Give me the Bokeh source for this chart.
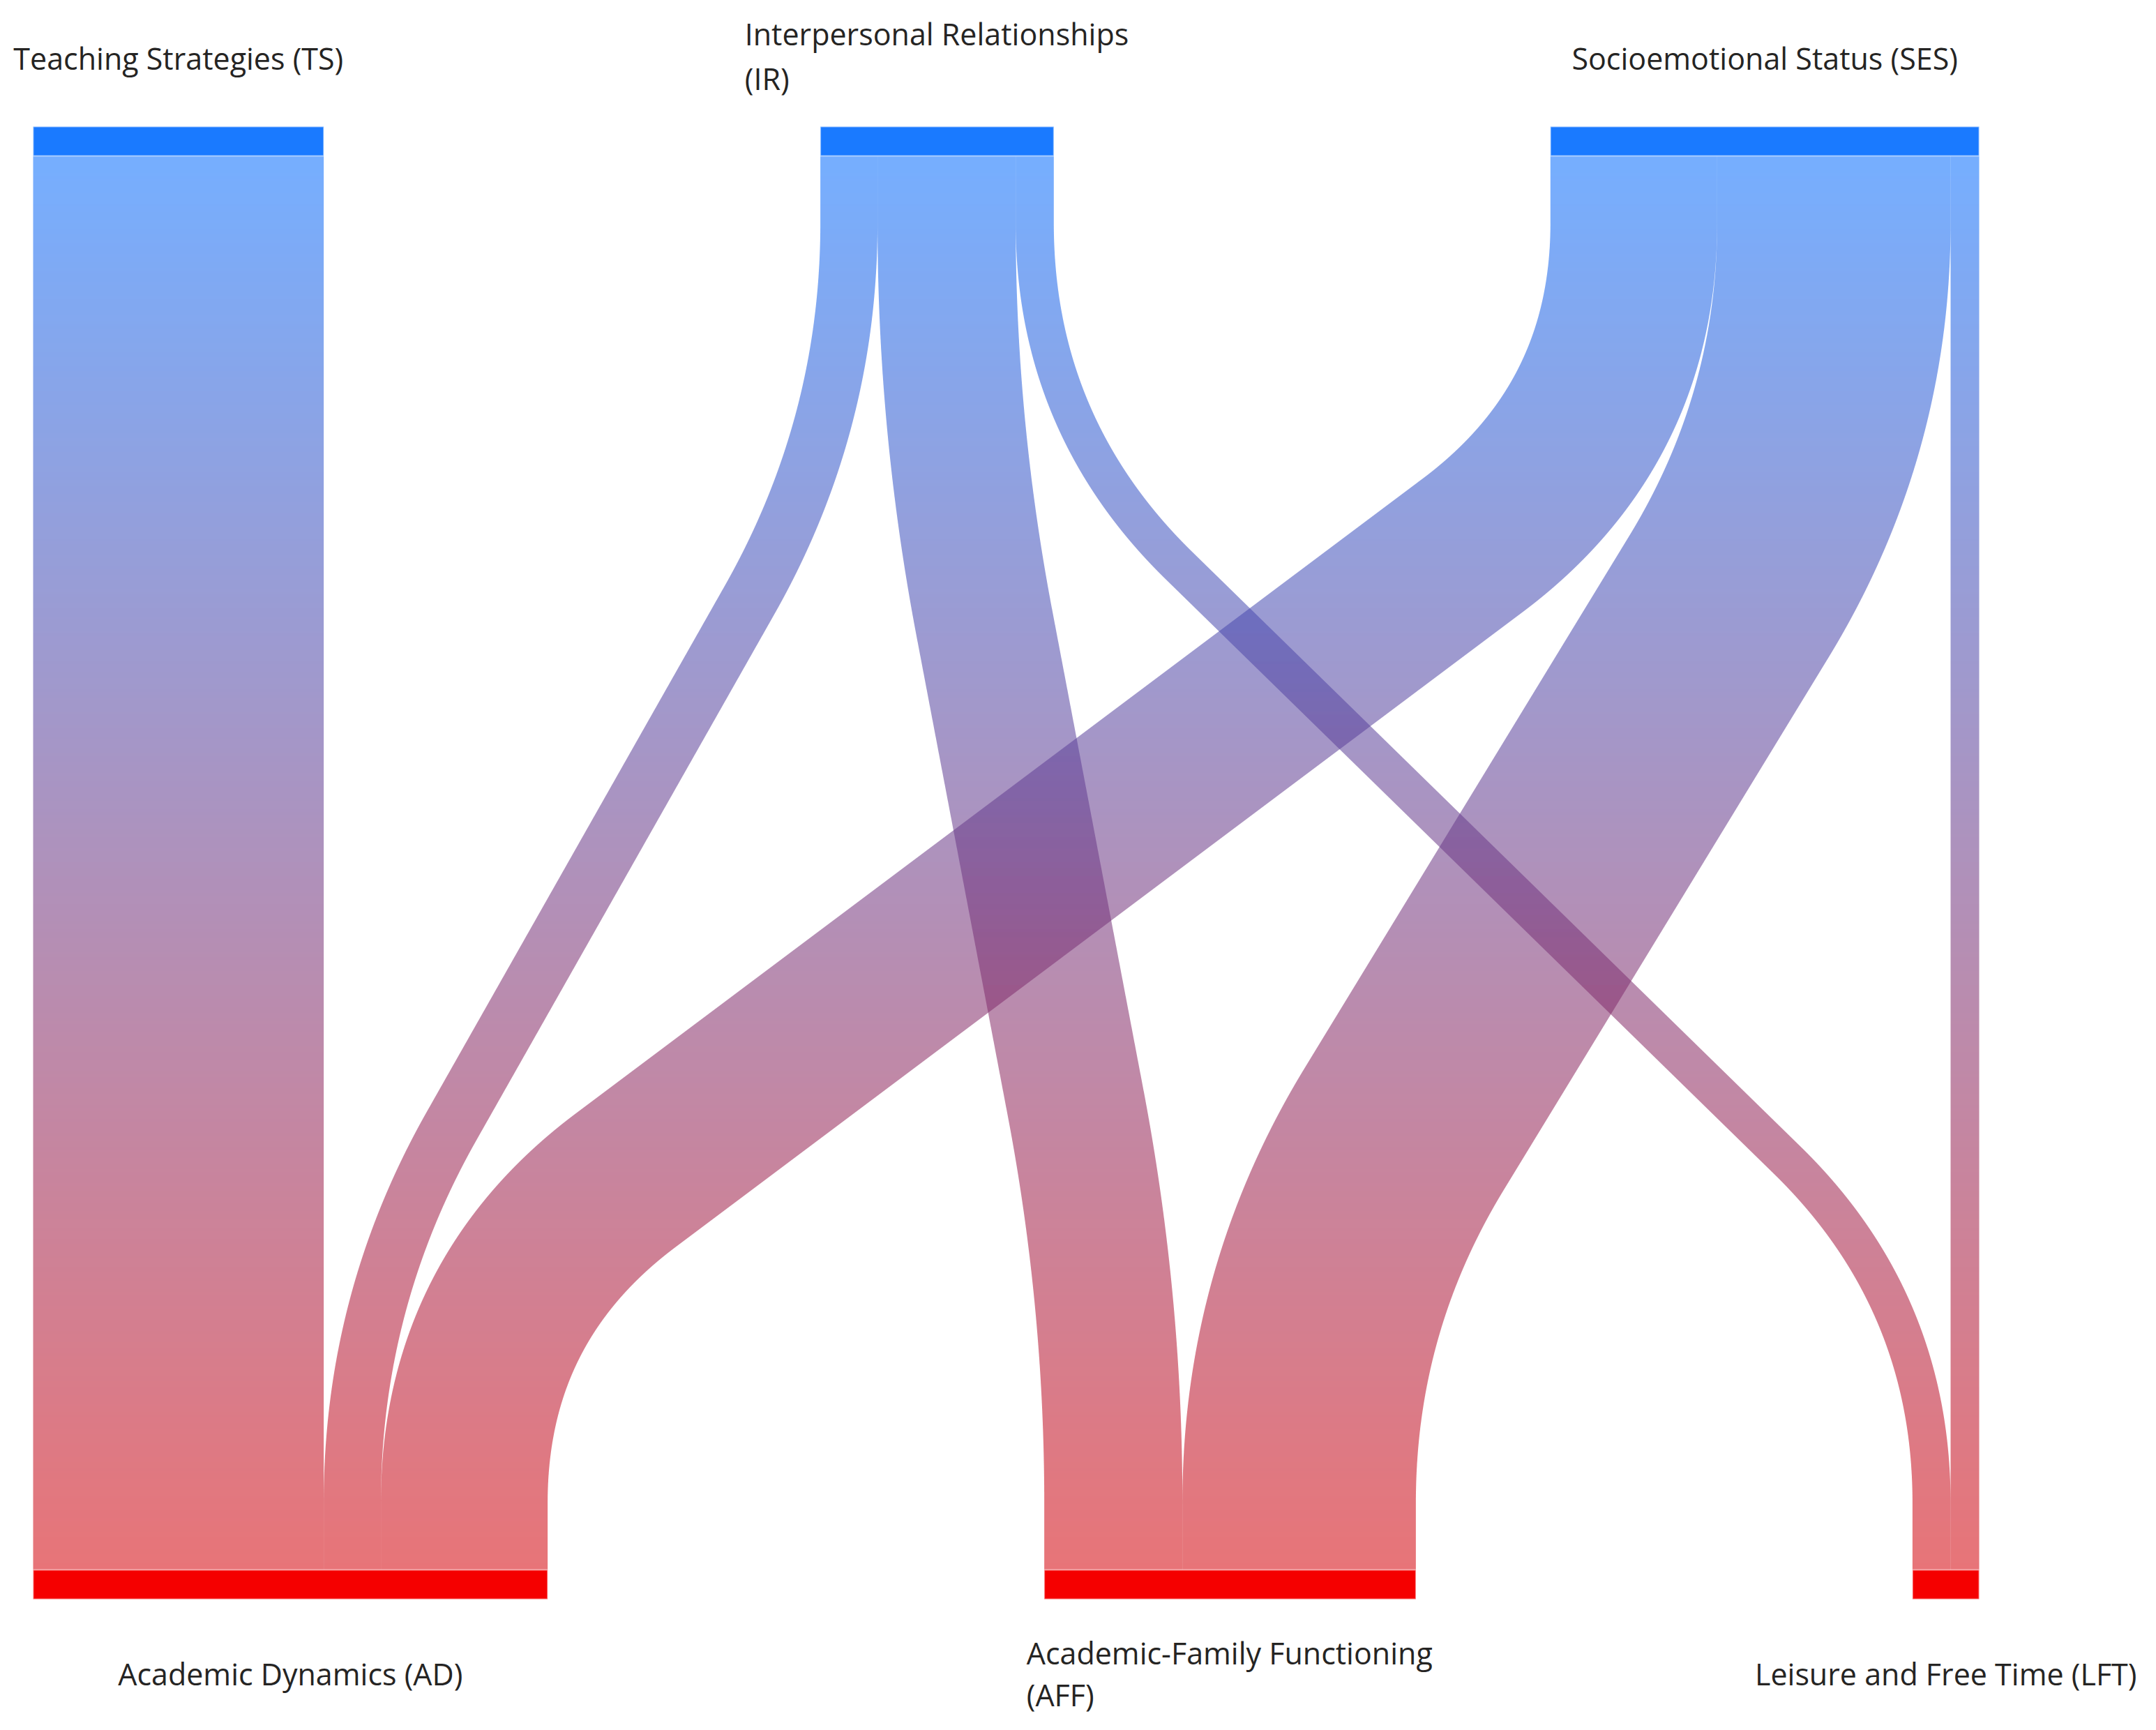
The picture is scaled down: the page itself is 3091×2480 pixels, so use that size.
import numpy as np
from bokeh.plotting import figure
from bokeh.models import Range1d, ColumnDataSource
from bokeh.embed import file_html
from bokeh.resources import INLINE
from bokeh.core.properties import value

# ---------------- data ----------------
source_names = ["Teaching Strategies (TS)",
                "Interpersonal Relationships\n(IR)",
                "Socioemotional Status (SES)"]
target_names = ["Academic Dynamics (AD)",
                "Academic-Family Functioning\n(AFF)",
                "Leisure and Free Time (LFT)"]
link_source = [0, 1, 1, 1, 2, 2, 2]
link_target = [0, 0, 1, 2, 0, 1, 2]
link_value = [61, 12, 29, 8, 35, 49, 6]

# ---------------- layout / style ----------------
W, H = 3075, 2472
X_LEFT, X_RIGHT = 47, 2837
NODE_GAP = 712
TOP_Y0, TOP_Y1 = 181, 223        # top node band (screen y, downwards)
BOT_Y0, BOT_Y1 = 2250, 2292      # bottom node band
CORNER = 0.19                    # where the diagonal meets the vertical (fraction of height)
FILLET = 0.75                    # fillet tangent length (fraction of corner distance)
STEP = 4                         # gradient strip height (px)
LINK_ALPHA = 0.554
C_TOP = np.array([6, 109, 255], float)
C_BOT = np.array([213, 4, 10], float)
NODE_TOP_COLOR = "#1a7aff"
NODE_BOT_COLOR = "#f50000"
FONT = "Open Sans"
FS = 43
TEXT_COLOR = "#252423"
TOP_BASE, TOP_LS, TOP_MULTI_SHIFT = 83, 64, -3
BOT_BASE, BOT_LS, BOT_MULTI_SHIFT = 2399, 60, 0

# approximate Open Sans advance widths (em) for aligning wrapped labels
ADV = {' ': .26, '(': .303, ')': .303, '-': .322, 'A': .633, 'D': .729, 'F': .534,
       'I': .29, 'R': .624, 'L': .519, 'S': .549, 'T': .556, 'E': .556,
       'a': .556, 'c': .476, 'd': .613, 'e': .561, 'f': .336, 'g': .549, 'h': .613,
       'i': .252, 'l': .252, 'm': .926, 'n': .613, 'o': .601, 'p': .613, 'r': .408,
       's': .477, 't': .361, 'u': .613, 'y': .5}


def text_width(s):
    return sum(ADV.get(ch, .56) for ch in s) * FS


n_src, n_tgt = len(source_names), len(target_names)
src_tot = [sum(v for s, v in zip(link_source, link_value) if s == i) for i in range(n_src)]
tgt_tot = [sum(v for t, v in zip(link_target, link_value) if t == i) for i in range(n_tgt)]
k = (X_RIGHT - X_LEFT - NODE_GAP * (n_src - 1)) / sum(src_tot)
kb = (X_RIGHT - X_LEFT - NODE_GAP * (n_tgt - 1)) / sum(tgt_tot)

src_x, x = [], X_LEFT
for tot in src_tot:
    src_x.append(x)
    x += tot * k + NODE_GAP
tgt_x, x = [], X_LEFT
for tot in tgt_tot:
    tgt_x.append(x)
    x += tot * kb + NODE_GAP

p = figure(width=W, height=H, output_backend="svg", toolbar_location=None,
           x_range=Range1d(0, W), y_range=Range1d(H, 0),
           min_border=0, background_fill_color="white", border_fill_color="white")
p.axis.visible = False
p.grid.visible = False
p.outline_line_color = None


def centerline(x0, y0, x1, y1):
    """vertical stub -> rounded corner -> straight diagonal -> rounded corner -> vertical stub"""
    h = y1 - y0
    A = np.array([x0, y0 + CORNER * h])
    B = np.array([x1, y1 - CORNER * h])
    down = np.array([0.0, 1.0])
    u = (B - A) / np.linalg.norm(B - A)
    d = FILLET * CORNER * h
    pts, tans = [], []

    def line(P, Q, n=200):
        tt = np.linspace(0, 1, n)[:, None]
        pts.append(P + (Q - P) * tt)
        tans.append(np.repeat(((Q - P) / max(np.linalg.norm(Q - P), 1e-9))[None, :], n, 0))

    def quad(P, Cc, Q, n=600):
        tt = np.linspace(0, 1, n)[:, None]
        pts.append((1 - tt) ** 2 * P + 2 * (1 - tt) * tt * Cc + tt ** 2 * Q)
        tans.append(2 * (1 - tt) * (Cc - P) + 2 * tt * (Q - Cc))

    S0 = np.array([x0, y0]); S3 = np.array([x1, y1])
    line(S0, A - d * down)
    quad(A - d * down, A, A + d * u)
    line(A + d * u, B - d * u, 800)
    quad(B - d * u, B, B + d * down)
    line(B + d * down, S3)
    P = np.concatenate(pts); T = np.concatenate(tans)
    T = T / np.hypot(T[:, 0], T[:, 1])[:, None]
    return P, T


# ---------------- links as gradient strips ----------------
out_off = [0.0] * n_src
in_off = [0.0] * n_tgt
xs_all, ys_all, col_all = [], [], []
y0, y1 = TOP_Y1, BOT_Y0
h = y1 - y0
Y = np.arange(y0 + 0.5, y1, STEP, dtype=float)
Y[0] = y0
Y = np.append(Y, float(y1))

for s, t, v in zip(link_source, link_target, link_value):
    w = v * k
    x0 = src_x[s] + out_off[s] + w / 2
    out_off[s] += w
    x1 = tgt_x[t] + in_off[t] + w / 2
    in_off[t] += w
    C, T = centerline(x0, y0, x1, y1)
    N = np.stack([-T[:, 1], T[:, 0]], axis=1)
    L = C + N * w / 2
    R = C - N * w / 2
    segA = np.concatenate([L[:-1], R[:-1], L[[0]], L[[-1]]])
    segB = np.concatenate([L[1:], R[1:], R[[0]], R[[-1]]])
    ax, ay, bx, by = segA[:, 0], segA[:, 1], segB[:, 0], segB[:, 1]
    Yc = Y[:, None]
    mask = (ay - Yc) * (by - Yc) <= 0
    horiz = np.abs(by - ay) < 1e-9
    den = np.where(horiz, 1.0, by - ay)
    xi = ax + (Yc - ay) * (bx - ax) / den
    xlo = np.where(horiz, np.minimum(ax, bx), xi)
    xhi = np.where(horiz, np.maximum(ax, bx), xi)
    xl = np.where(mask, xlo, np.inf).min(axis=1)
    xr = np.where(mask, xhi, -np.inf).max(axis=1)
    for j in range(len(Y) - 1):
        if not (np.isfinite(xl[j]) and np.isfinite(xl[j + 1])):
            continue
        xs_all.append([xl[j], xr[j], xr[j + 1], xl[j + 1]])
        ys_all.append([Y[j], Y[j], Y[j + 1], Y[j + 1]])
        f = ((Y[j] + Y[j + 1]) / 2 - y0) / h
        c = C_TOP + (C_BOT - C_TOP) * f
        col_all.append("#%02x%02x%02x" % tuple(int(round(q)) for q in c))

p.patches(xs="xs", ys="ys", fill_color="color", fill_alpha=LINK_ALPHA,
          line_color=None,
          source=ColumnDataSource(dict(xs=xs_all, ys=ys_all, color=col_all)))

# ---------------- nodes ----------------
p.quad(left=src_x, right=[x + tt_ * k for x, tt_ in zip(src_x, src_tot)],
       top=[TOP_Y0] * n_src, bottom=[TOP_Y1] * n_src,
       fill_color=NODE_TOP_COLOR, line_color="white", line_alpha=0.45, line_width=2)
p.quad(left=tgt_x, right=[x + tt_ * kb for x, tt_ in zip(tgt_x, tgt_tot)],
       top=[BOT_Y0] * n_tgt, bottom=[BOT_Y1] * n_tgt,
       fill_color=NODE_BOT_COLOR, line_color="white", line_alpha=0.45, line_width=2)

# ---------------- labels ----------------
lab_x, lab_y, lab_t, lab_align = [], [], [], []
for names, xs0, tots, kk, base, ls, msh in (
        (source_names, src_x, src_tot, k, TOP_BASE, TOP_LS, TOP_MULTI_SHIFT),
        (target_names, tgt_x, tgt_tot, kb, BOT_BASE, BOT_LS, BOT_MULTI_SHIFT)):
    for name, x0, tot in zip(names, xs0, tots):
        cx = x0 + tot * kk / 2
        lines = name.split("\n")
        n = len(lines)
        left = cx - text_width(lines[0]) / 2
        for i, ln in enumerate(lines):
            lab_t.append(ln)
            if n == 1:
                lab_y.append(base)
                lab_x.append(cx); lab_align.append("center")
            else:
                lab_y.append(base + msh + (i - (n - 1) / 2) * ls)
                lab_x.append(left); lab_align.append("left")

p.text(x="x", y="y", text="text", text_align="align",
       source=ColumnDataSource(dict(x=lab_x, y=lab_y, text=lab_t, align=lab_align)),
       text_font=value(FONT), text_font_size="%dpx" % FS,
       text_baseline="alphabetic", text_color=TEXT_COLOR)

open("out.html", "w").write(file_html(p, INLINE))
